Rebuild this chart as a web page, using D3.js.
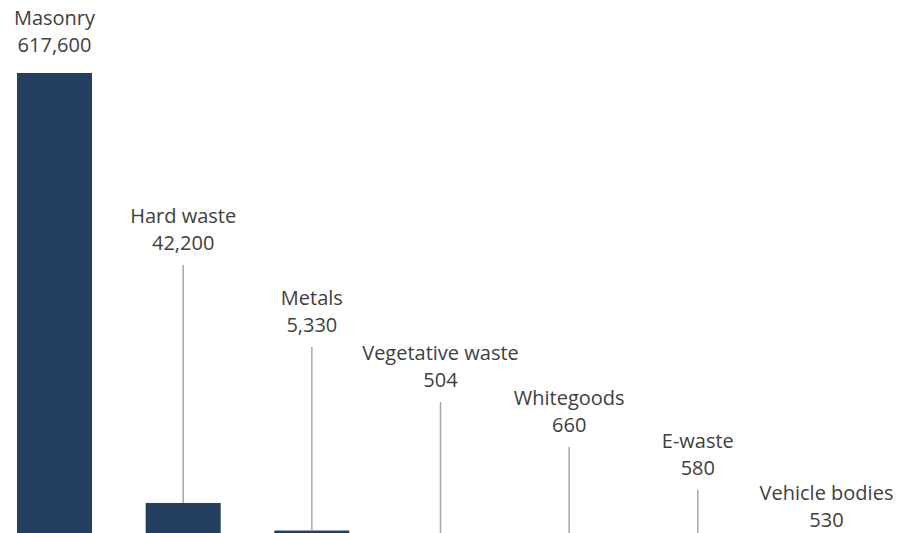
<!DOCTYPE html>
<html>
<head>
<meta charset="utf-8">
<script src="https://cdn.jsdelivr.net/npm/d3@7"></script>
<style>
  html, body { margin: 0; padding: 0; background: #fff; }
  svg { display: block; }
  text { font-family: "Open Sans", "Noto Sans", sans-serif; fill: #404040; }
</style>
</head>
<body>
<svg id="chart" width="900" height="533"></svg>
<script>
// Waste collected by stream (tonnes)
const categories = ["Masonry", "Hard waste", "Metals", "Vegetative waste", "Whitegoods", "E-waste", "Vehicle bodies"];
const tonnes = [617600, 42200, 5330, 504, 660, 580, 530];

// Where each two-line label sits (centre of the value line, in px)
const labelLayout = [45, 243, 325, 380, 425, 468, 520];

const svg = d3.select("#chart");

const x = d3.scaleBand()
  .domain(categories)
  .range([17, 864])
  .paddingInner(0.417)
  .paddingOuter(0);

const y = d3.scaleLinear()
  .domain([0, 700000])
  .range([534.5, 11.43]);

const fmt = d3.format(",");

const data = categories.map((c, i) => ({ name: c, value: tonnes[i], ly: labelLayout[i] }));

// bars
svg.append("g").selectAll("rect")
  .data(data)
  .join("rect")
  .attr("x", d => x(d.name))
  .attr("width", x.bandwidth())
  .attr("y", d => y(d.value))
  .attr("height", d => y(0) - y(d.value))
  .attr("fill", "#243F60");

// leader lines from labels down to bar tops
svg.append("g").selectAll("line")
  .data(data.filter(d => y(d.value) - (d.ly + 22) > 8))
  .join("line")
  .attr("x1", d => x(d.name) + x.bandwidth() / 2)
  .attr("x2", d => x(d.name) + x.bandwidth() / 2)
  .attr("y1", d => d.ly + 22)
  .attr("y2", d => y(d.value))
  .attr("stroke", "#A6A6A6")
  .attr("stroke-width", 1.5);

// labels: category name over value
const lbl = svg.append("g").selectAll("g")
  .data(data)
  .join("g")
  .attr("transform", d => `translate(${x(d.name) + x.bandwidth() / 2},${d.ly})`);

lbl.append("text")
  .attr("text-anchor", "middle")
  .attr("y", -27)
  .attr("dy", "0.35em")
  .style("font-size", "20px")
  .text(d => d.name);

lbl.append("text")
  .attr("text-anchor", "middle")
  .attr("dy", "0.35em")
  .style("font-size", "20px")
  .text(d => fmt(d.value));
</script>
</body>
</html>
